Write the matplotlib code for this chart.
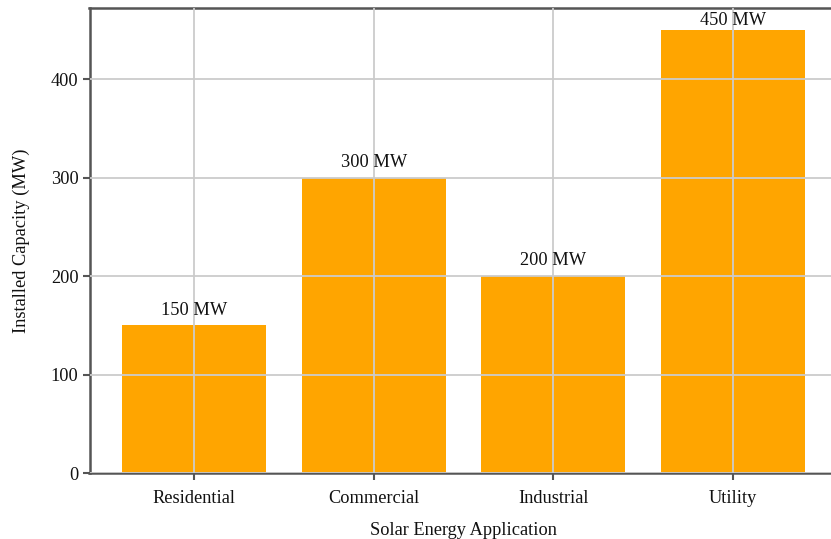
import matplotlib
matplotlib.use("Agg")
import matplotlib.pyplot as plt

categories = ["Residential", "Commercial", "Industrial", "Utility"]
capacity_mw = [150, 300, 200, 450]
y_ticks = [0, 100, 200, 300, 400]

plt.rcParams["font.family"] = ["Liberation Serif", "DejaVu Serif"]
FS = 13.2

fig = plt.figure(figsize=(8.31, 5.39), dpi=100)
ax = fig.add_axes([89.5 / 831, 66 / 539, 748 / 831, 465 / 539])

x = list(range(len(categories)))
ax.bar(x, capacity_mw, width=0.8, color="#FFA500", zorder=1)

y_top = 472.5
# value labels sit just above each bar, kept inside the plot area
for xi, v in zip(x, capacity_mw):
    ly = min(v + 11.0, y_top - 17.5)
    ax.text(xi, ly, f"{v} MW", ha="center", va="baseline",
            fontsize=FS, color="#111111", zorder=3)

ax.set_xlim(-0.583, 3.583)
ax.set_ylim(0, y_top)
ax.set_xticks(x)
ax.set_xticklabels(categories)
ax.set_yticks(y_ticks)

ax.grid(True, color="#cbcbcb", linewidth=1.3, zorder=2)
ax.set_axisbelow(False)
for line in ax.get_xgridlines() + ax.get_ygridlines():
    line.set_zorder(2)

for side in ["left", "top", "bottom"]:
    ax.spines[side].set_color("#555555")
    ax.spines[side].set_linewidth(1.8)
ax.spines["right"].set_visible(False)

ax.tick_params(axis="both", colors="#555555", labelcolor="#111111",
               labelsize=FS, length=5, width=1.5)
ax.tick_params(axis="x", pad=7)
ax.tick_params(axis="y", pad=3)

ax.set_xlabel("Solar Energy Application", fontsize=FS, color="#111111", labelpad=11)
ax.set_ylabel("Installed Capacity (MW)", fontsize=FS, color="#111111", labelpad=15)

fig.savefig("out.png", dpi=100)
